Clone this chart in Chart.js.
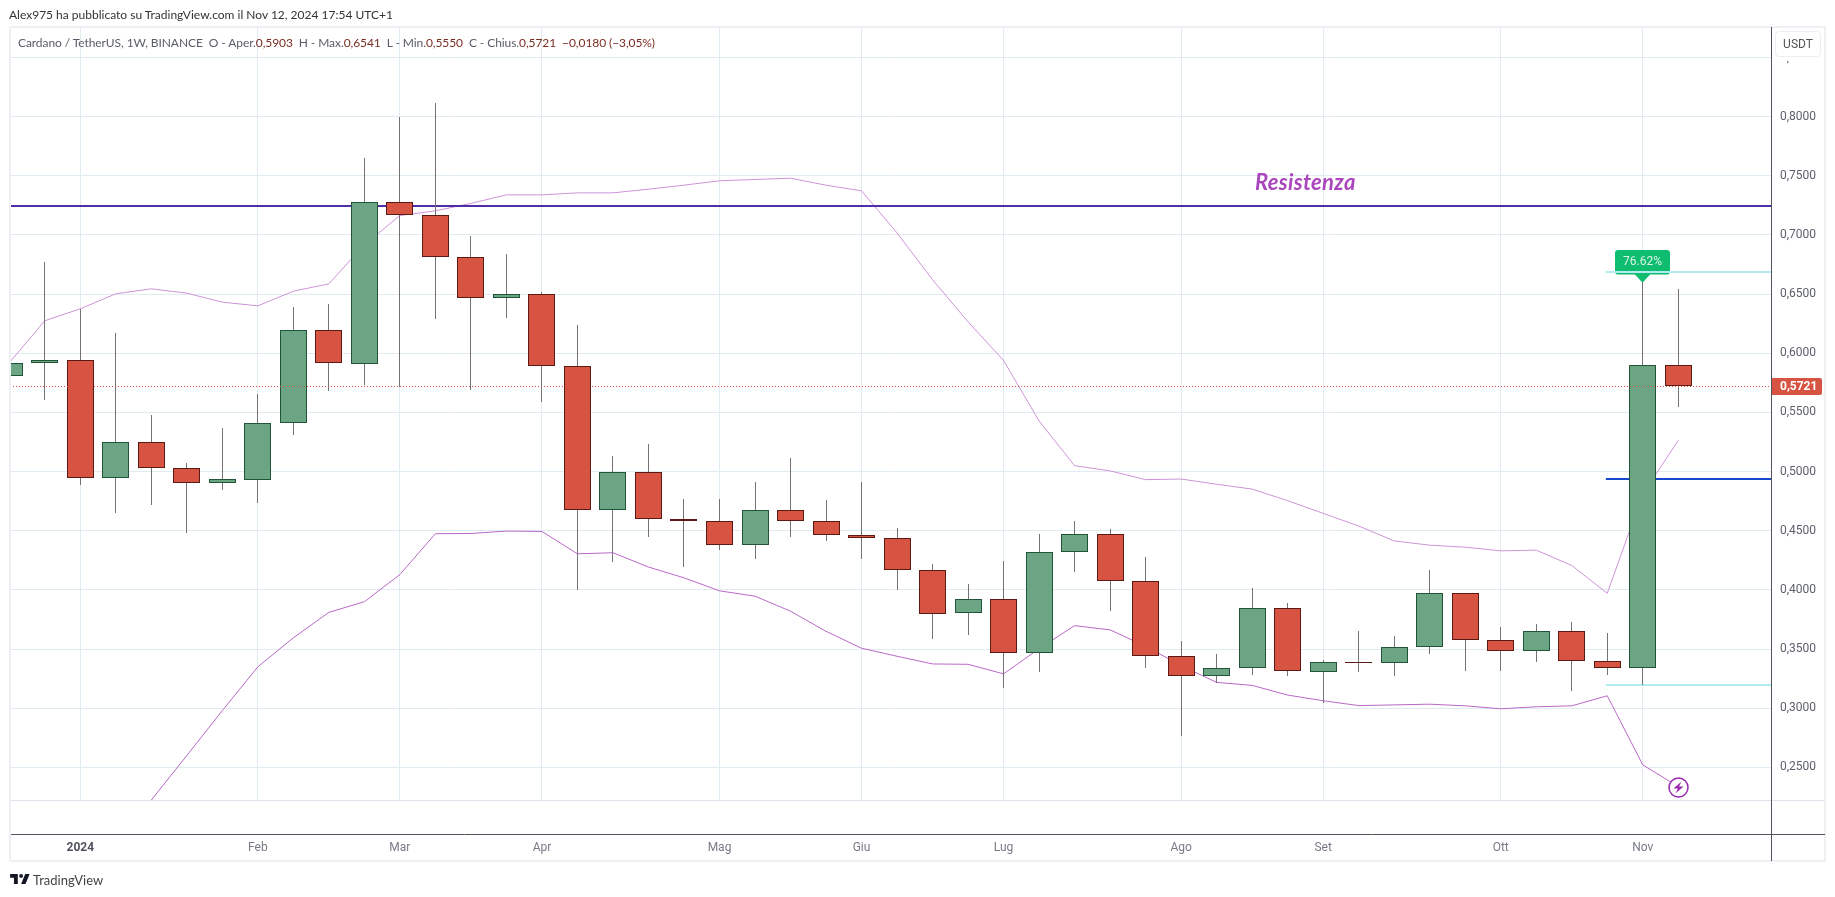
<!DOCTYPE html>
<html lang="it">
<head>
<meta charset="utf-8">
<title>Cardano / TetherUS</title>
<script src="https://cdn.jsdelivr.net/npm/chart.js@4"></script>
<style>
    html, body { margin: 0; padding: 0; background: #fff; overflow: hidden; }
    canvas { position: absolute; left: 0; top: 0; }
    .txt { position: absolute; white-space: pre; font-family: Lato, sans-serif; }
    #byline { left: 9px; top: 7px; font-size: 12px; color: #333; }
    #legend { left: 18px; top: 35px; font-size: 12px; letter-spacing: -0.08px; color: #5a5d68; }
    #legend b { font-weight: 400; color: #7a2e22; }
    #resistance { left: 1255px; top: 168px; font: italic bold 22px Lato, sans-serif; letter-spacing: 0.3px; color: #ab47bc; }
    #unit { left: 1775px; top: 31px; width: 44px; height: 24px; text-align: center;
        background: #fff; border: 1px solid #eceef2; border-radius: 4px; box-shadow: 0 4px 0 0 #fff;
        font: 12px/25px Roboto, sans-serif; color: #555; }
    #logo { position: absolute; left: 10px; top: 874px; }
    #brand { left: 33px; top: 872px; font-size: 13px; color: #444; }
</style>
</head>
<body>
<canvas id="chart" width="1835" height="897"></canvas>
<div class="txt" id="byline">Alex975 ha pubblicato su TradingView.com il Nov 12, 2024 17:54 UTC+1</div>
<div class="txt" id="legend">Cardano / TetherUS, 1W, BINANCE  O - Aper.<b>0,5903</b>  H - Max.<b>0,6541</b>  L - Min.<b>0,5550</b>  C - Chius.<b>0,5721</b>  <b>−0,0180 (−3,05%)</b></div>
<div class="txt" id="resistance">Resistenza</div>
<div class="txt" id="unit">USDT</div>
<svg id="logo" width="20" height="11" viewBox="0 0 36 20"><path d="M14 18H7V7H0V0h14v18zM28 18h-8L27.5 0h8L28 18z" fill="#131722"/><circle cx="20" cy="3.5" r="3.5" fill="#131722"/></svg>
<div class="txt" id="brand">TradingView</div>
<script>
// Weekly candles, first one is the week of Dec 18 2023
const openPrice = [0.5805, 0.5915, 0.5942, 0.4949, 0.5246, 0.5034, 0.4907, 0.4932, 0.5407, 0.6195, 0.5907, 0.7280,
    0.7170, 0.6814, 0.6466, 0.6500, 0.5890, 0.4678, 0.5000, 0.4602, 0.4585, 0.4382, 0.4678, 0.4585,
    0.4466, 0.4441, 0.4170, 0.3806, 0.3924, 0.3467, 0.4322, 0.4475, 0.4077, 0.3441, 0.3272, 0.3340,
    0.3848, 0.3306, 0.3391, 0.3382, 0.3517, 0.3975, 0.3577, 0.3483, 0.3653, 0.3399, 0.3339, 0.5903];
const closePrice = [0.5915, 0.5942, 0.4949, 0.5246, 0.5034, 0.4907, 0.4941, 0.5407, 0.6195, 0.5915, 0.7280, 0.7170,
    0.6814, 0.6466, 0.6500, 0.5890, 0.4678, 0.5000, 0.4602, 0.4585, 0.4382, 0.4678, 0.4585, 0.4466,
    0.4441, 0.4170, 0.3797, 0.3924, 0.3467, 0.4322, 0.4475, 0.4077, 0.3441, 0.3272, 0.3340, 0.3848,
    0.3314, 0.3391, 0.3389, 0.3518, 0.3975, 0.3577, 0.3483, 0.3653, 0.3399, 0.3339, 0.5903, 0.5721];
const highPrice = [0.6000, 0.6774, 0.6376, 0.6172, 0.5477, 0.5070, 0.5367, 0.5655, 0.6393, 0.6418, 0.7647, 0.7995,
    0.8113, 0.6994, 0.6842, 0.6520, 0.6240, 0.5130, 0.5231, 0.4766, 0.4766, 0.4910, 0.5113, 0.4757,
    0.4910, 0.4520, 0.4215, 0.4046, 0.4241, 0.4469, 0.4579, 0.4511, 0.4274, 0.3571, 0.3461, 0.4020,
    0.3885, 0.3410, 0.3656, 0.3614, 0.4164, 0.3975, 0.3689, 0.3715, 0.3732, 0.3639, 0.6604, 0.6541];
const lowPrice = [0.5707, 0.5607, 0.4887, 0.4650, 0.4718, 0.4480, 0.4845, 0.4732, 0.5311, 0.5684, 0.5732, 0.5712,
    0.6294, 0.5692, 0.6302, 0.5590, 0.3998, 0.4235, 0.4447, 0.4193, 0.4337, 0.4260, 0.4447, 0.4413,
    0.4260, 0.4003, 0.3583, 0.3617, 0.3168, 0.3303, 0.4150, 0.3820, 0.3337, 0.2761, 0.3210, 0.3278,
    0.3269, 0.3040, 0.3303, 0.3269, 0.3455, 0.3317, 0.3317, 0.3393, 0.3142, 0.3277, 0.3192, 0.5550];

const upperBand = [0.5920, 0.6275, 0.6376, 0.6503, 0.6545, 0.6508, 0.6432, 0.6401, 0.6525, 0.6587, 0.6918, 0.7164,
    0.7204, 0.7267, 0.7339, 0.7339, 0.7356, 0.7356, 0.7387, 0.7421, 0.7458, 0.7469, 0.7480, 0.7421,
    0.7373, 0.7017, 0.6622, 0.6266, 0.5939, 0.5428, 0.5050, 0.5006, 0.4932, 0.4937, 0.4893, 0.4852,
    0.4754, 0.4647, 0.4540, 0.4414, 0.4378, 0.4361, 0.4330, 0.4336, 0.4206, 0.3972, 0.4810, 0.5264];
const lowerBand = [null, null, null, null, 0.2224, 0.2600, 0.2980, 0.3350, 0.3595, 0.3810, 0.3900, 0.4130,
    0.4475, 0.4477, 0.4497, 0.4494, 0.4305, 0.4314, 0.4193, 0.4102, 0.3992, 0.3947, 0.3820, 0.3650,
    0.3507, 0.3439, 0.3374, 0.3371, 0.3290, 0.3503, 0.3698, 0.3662, 0.3523, 0.3360, 0.3218, 0.3193,
    0.3111, 0.3063, 0.3022, 0.3028, 0.3034, 0.3020, 0.2995, 0.3012, 0.3020, 0.3105, 0.2521, 0.2337];

const priceTicks = [0.85, 0.80, 0.75, 0.70, 0.65, 0.60, 0.55, 0.50, 0.45, 0.40, 0.35, 0.30, 0.25];
const monthWeeks = [2, 7, 11, 15, 20, 24, 28, 33, 37, 42, 46];
const monthLabels = ['2024', 'Feb', 'Mar', 'Apr', 'Mag', 'Giu', 'Lug', 'Ago', 'Set', 'Ott', 'Nov'];

const resistanceLevel = 0.7245;
const midLevel = 0.4937;
const fibTop = 0.6687;
const fibBottom = 0.3196;
const lastPrice = 0.5721;
const fibStartWeek = 44.96;
const fibLabel = '76.62%';

const xMin = 0.02;
const xMax = 49.611;
const yMin = 0.2224;
const yMax = 0.8758;

const weeks = openPrice.map((_, i) => i);

function priceText(v) {
    return v.toFixed(4).replace('.', ',');
}

function hLine(level, from, color, width, order, extra) {
    return Object.assign({
        type: 'line',
        data: [{ x: from, y: level }, { x: xMax, y: level }],
        borderColor: color,
        borderWidth: width,
        pointRadius: 0,
        order: order
    }, extra);
}

function bandLine(values, color) {
    return {
        type: 'line',
        data: weeks.map(i => ({ x: i, y: values[i] })),
        borderColor: color,
        borderWidth: 1,
        pointRadius: 0,
        tension: 0,
        spanGaps: false,
        order: 4
    };
}

// TradingView snaps candles to whole pixels, bars would blur otherwise
const snapCandles = {
    id: 'snapCandles',
    afterDatasetsUpdate(chart) {
        chart.data.datasets.forEach((ds, idx) => {
            const meta = chart.getDatasetMeta(idx);
            if (ds.snapPoints) {
                meta.data.forEach(pt => { pt.y = Math.floor(pt.y) + 0.5; });
            }
            if (ds.type !== 'line') {
                meta.data.forEach(el => {
                    el.x = Math.floor(el.x) + 0.5;
                    el.y = Math.round(el.y);
                    el.base = Math.round(el.base);
                    if (el.y === el.base) el.base += 1;
                });
            }
        });
    }
};

// Green pct label behind the fib lines
const fibBadge = {
    id: 'fibBadge',
    beforeDatasetsDraw(chart) {
        const { ctx, scales } = chart;
        const x = Math.floor(scales.x.getPixelForValue(46)) + 0.5;
        const tip = scales.y.getPixelForValue(highPrice[46]) + 1;
        ctx.save();
        ctx.fillStyle = '#0fbd70';
        ctx.beginPath();
        ctx.roundRect(x - 27.5, 250, 55, 24.5, 3);
        ctx.fill();
        ctx.beginPath();
        ctx.moveTo(x - 8, 274);
        ctx.lineTo(x + 8, 274);
        ctx.lineTo(x, tip);
        ctx.closePath();
        ctx.fill();
        ctx.fillStyle = '#d6f3e5';
        ctx.font = '12px Roboto, sans-serif';
        ctx.textAlign = 'center';
        ctx.textBaseline = 'middle';
        ctx.fillText(fibLabel, x, 262);
        ctx.restore();
    }
};

// Pane frame, axis lines, last price tag and the alert icon
const paneChrome = {
    id: 'paneChrome',
    afterDraw(chart) {
        const { ctx, chartArea: a, scales } = chart;
        const rule = (x1, y1, x2, y2, color) => {
            ctx.strokeStyle = color;
            ctx.beginPath();
            ctx.moveTo(x1, y1);
            ctx.lineTo(x2, y2);
            ctx.stroke();
        };
        ctx.save();
        ctx.lineWidth = 2;
        ctx.strokeStyle = '#eff0f4';
        ctx.strokeRect(10, 27, 1815, 834);
        ctx.lineWidth = 1;
        rule(11, a.bottom + 0.5, 1825, a.bottom + 0.5, '#e0e3eb');
        rule(11, 834.5, 1825, 834.5, '#50535e');
        rule(a.right + 0.5, 27, a.right + 0.5, 861, '#50535e');

        const py = Math.floor(scales.y.getPixelForValue(lastPrice)) + 0.5;
        ctx.fillStyle = '#d75442';
        ctx.beginPath();
        ctx.roundRect(a.right + 1, py - 8.5, 50, 17, [0, 2, 2, 0]);
        ctx.fill();
        ctx.fillStyle = '#fff';
        ctx.font = 'bold 12px Roboto, sans-serif';
        ctx.textAlign = 'left';
        ctx.textBaseline = 'middle';
        ctx.fillText(priceText(lastPrice), a.right + 9, py + 0.5);

        const ix = Math.floor(scales.x.getPixelForValue(47)) + 0.5;
        const iy = 787.5;
        ctx.fillStyle = '#fff';
        ctx.strokeStyle = '#9c27b0';
        ctx.lineWidth = 1.5;
        ctx.beginPath();
        ctx.arc(ix, iy, 9.5, 0, Math.PI * 2);
        ctx.fill();
        ctx.stroke();
        ctx.fillStyle = '#9c27b0';
        ctx.beginPath();
        ctx.moveTo(ix + 3, iy - 6);
        ctx.lineTo(ix - 5, iy + 1);
        ctx.lineTo(ix - 0.5, iy + 1);
        ctx.lineTo(ix - 3, iy + 6);
        ctx.lineTo(ix + 5, iy - 1);
        ctx.lineTo(ix + 0.5, iy - 1);
        ctx.closePath();
        ctx.fill();
        ctx.restore();
    }
};

new Chart(document.getElementById('chart'), {
    type: 'bar',
    plugins: [snapCandles, fibBadge, paneChrome],
    data: {
        datasets: [
            {
                // candle bodies
                data: weeks.map(i => ({ x: i, y: [openPrice[i], closePrice[i]] })),
                backgroundColor: weeks.map(i => closePrice[i] >= openPrice[i] ? '#6ba583' : '#d75442'),
                borderColor: weeks.map(i => closePrice[i] >= openPrice[i] ? '#225437' : '#5b1a13'),
                borderWidth: 1,
                borderSkipped: false,
                inflateAmount: 0,
                barThickness: 27,
                grouped: false,
                order: 1
            },
            {
                // wicks
                data: weeks.map(i => ({ x: i, y: [lowPrice[i], highPrice[i]] })),
                backgroundColor: '#737375',
                borderWidth: 0,
                inflateAmount: 0,
                barThickness: 1,
                grouped: false,
                order: 2
            },
            hLine(lastPrice, xMin, '#d75442', 1, 0, { borderDash: [1, 2], snapPoints: true }),
            hLine(fibTop, fibStartWeek, '#b2ebf2', 2, 3),
            hLine(fibBottom, fibStartWeek, '#b2ebf2', 2, 3),
            hLine(midLevel, fibStartWeek, '#1848cc', 2, 3),
            hLine(resistanceLevel, xMin, '#512da8', 2, 3),
            bandLine(upperBand, '#ce93d8'),
            bandLine(lowerBand, '#ba68c8')
        ]
    },
    options: {
        responsive: false,
        animation: false,
        events: [],
        layout: { padding: { left: 10, top: 27, right: 10, bottom: 36 } },
        plugins: { legend: { display: false }, tooltip: { enabled: false } },
        scales: {
            x: {
                type: 'linear',
                offset: false,
                min: xMin,
                max: xMax,
                afterFit(scale) { scale.height = 61; },
                afterBuildTicks(scale) { scale.ticks = monthWeeks.map(value => ({ value })); },
                grid: { color: '#e1ecf2', drawTicks: false, offset: false },
                border: { display: false },
                ticks: {
                    autoSkip: false,
                    maxRotation: 0,
                    padding: 41,
                    color: ctx => ctx.index === 0 ? '#50535e' : '#787b86',
                    font: ctx => ({ family: 'Roboto, sans-serif', size: 12, weight: ctx.index === 0 ? 'bold' : 'normal' }),
                    callback: value => monthLabels[monthWeeks.indexOf(value)]
                }
            },
            y: {
                position: 'right',
                min: yMin,
                max: yMax,
                afterFit(scale) { scale.width = 54; },
                afterBuildTicks(scale) { scale.ticks = priceTicks.map(value => ({ value })); },
                grid: { color: '#e1ecf2', drawTicks: false },
                border: { display: false },
                ticks: {
                    padding: 9,
                    color: '#5d606b',
                    font: { family: 'Roboto, sans-serif', size: 12 },
                    callback: value => priceText(value)
                }
            }
        }
    }
});
</script>
</body>
</html>
